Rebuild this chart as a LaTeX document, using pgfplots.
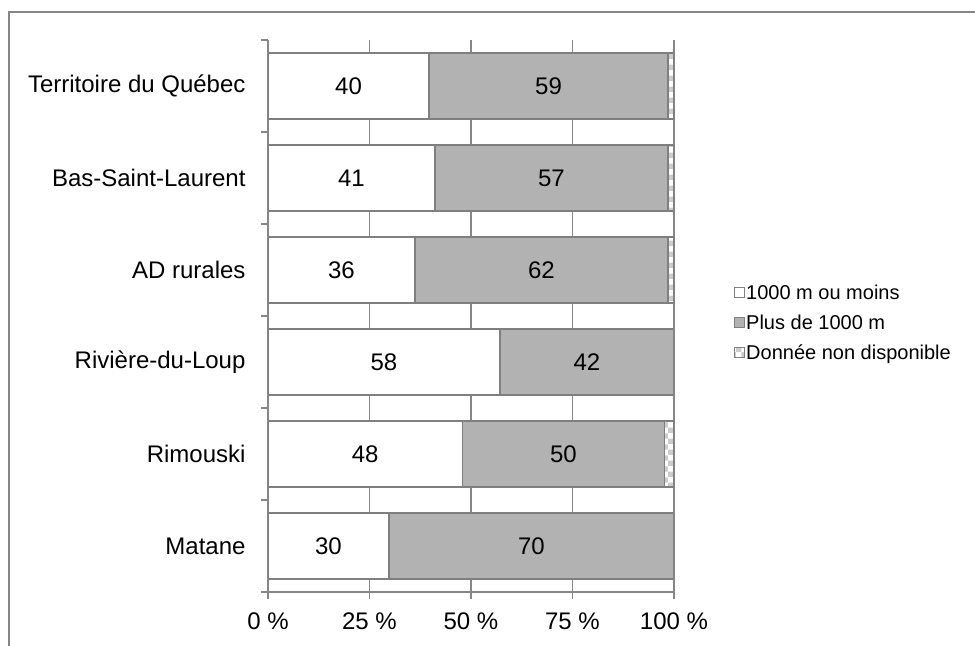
\documentclass[border=0pt]{standalone}
\usepackage{fontspec}
\setmainfont{Liberation Sans}
\usepackage{pgfplots}
\pgfplotsset{compat=1.18}
\usepackage{pgfplotstable}
\usetikzlibrary{patterns}

\definecolor{axisgray}{HTML}{868686}
\definecolor{bargray}{HTML}{B2B2B2}
\definecolor{edgegray}{HTML}{7F7F7F}

% y: 0 = Matane (bottom) ... 5 = Territoire du Quebec (top)
\pgfplotstableread{
y  a     la  b     lb  c
0  29.8  30  70.2  70  0
1  47.9  48  49.7  50  2.4
2  57.1  58  42.9  42  0
3  36.2  36  62.3  62  1.5
4  41.1  41  57.4  57  1.5
5  39.7  40  58.8  59  1.5
}\data

\newcommand{\lblfont}{\fontsize{24bp}{28bp}\selectfont}

\begin{document}
\begin{tikzpicture}
\useasboundingbox (0,0) rectangle (975bp,646bp);
\draw[axisgray, line width=2bp] (9bp,0) -- (9bp,634bp) -- (975bp,634bp);
\begin{axis}[
  at={(268bp,54bp)}, anchor=south west,
  scale only axis, width=406bp, height=552bp,
  xbar stacked, bar width=66bp,
  xmin=0, xmax=100, ymin=-0.5, ymax=5.5,
  axis x line=bottom, axis y line=left,
  axis line style={-, axisgray, line width=2bp},
  xmajorgrids, grid style={axisgray, line width=1.5bp},
  xtick={0,25,50,75,100},
  xticklabels={0 \%,25 \%,50 \%,75 \%,100 \%},
  ytick={-0.5,0.5,...,5.5}, yticklabels={},
  extra y ticks={0,1,2,3,4,5},
  extra y tick labels={Matane,Rimouski,Rivière-du-Loup,AD rurales,Bas-Saint-Laurent,Territoire du Québec},
  extra y tick style={major tick length=0pt, yticklabel style={xshift=-19bp}},
  tick align=outside, major tick length=7bp,
  tick style={axisgray, line width=1.5bp},
  tick label style={font=\lblfont},
  xticklabel style={yshift=-10bp},
  every axis plot/.append style={draw=edgegray, line width=1.5bp,
    legend image code/.code={\draw[##1, line width=1bp] (0bp,-5bp) rectangle (10bp,5bp);}},
  legend style={draw=none, fill=none, inner sep=0pt, row sep=12bp,
    font=\fontsize{20bp}{23bp}\selectfont, nodes={inner sep=1bp},
    at={(axis description cs:1,0.5)}, anchor=west, xshift=60bp, yshift=-7bp},
  legend cell align=left,
  every node near coord/.append style={font=\lblfont, text=black, anchor=center},
]
\addplot[fill=white, nodes near coords, point meta=explicit symbolic]
  table[x=a, y=y, meta=la] {\data};
\addplot[fill=bargray, nodes near coords, point meta=explicit symbolic]
  table[x=b, y=y, meta=lb] {\data};
\addplot[pattern=checkerboard, pattern color=gray!40]
  table[x=c, y=y] {\data};
\legend{1000 m ou moins,Plus de 1000 m,Donnée non disponible}
\end{axis}
\end{tikzpicture}
\end{document}
